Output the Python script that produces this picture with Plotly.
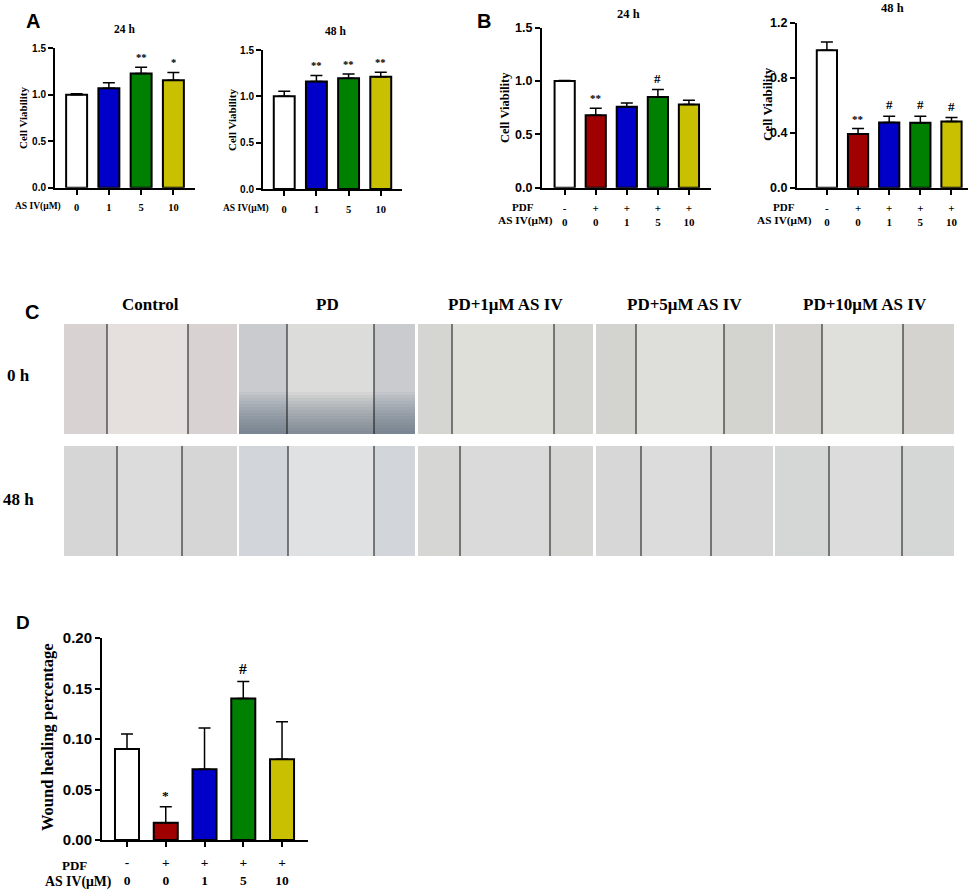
import plotly.graph_objects as go

W, H = 976, 891

# ---- data ----
a_dose = ["0", "1", "5", "10"]
a24_mean = [1.00, 1.07, 1.23, 1.155]
a24_err = [0.01, 0.06, 0.065, 0.085]
a24_sig = ["", "", "**", "*"]
a48_mean = [1.00, 1.16, 1.195, 1.21]
a48_err = [0.055, 0.065, 0.045, 0.05]
a48_sig = ["", "**", "**", "**"]

b_pdf = ["-", "+", "+", "+", "+"]
b_dose = ["0", "0", "1", "5", "10"]
b24_mean = [1.00, 0.68, 0.76, 0.85, 0.78]
b24_err = [0.005, 0.065, 0.035, 0.07, 0.04]
b24_sig = ["", "**", "", "#", ""]
b48_mean = [1.00, 0.39, 0.475, 0.473, 0.482]
b48_err = [0.06, 0.04, 0.045, 0.046, 0.028]
b48_sig = ["", "**", "#", "#", "#"]

d_mean = [0.090, 0.017, 0.070, 0.140, 0.080]
d_err = [0.015, 0.016, 0.041, 0.017, 0.037]
d_sig = ["", "*", "", "#", ""]

c_groups = ["Control", "PD", "PD+1μM AS IV", "PD+5μM AS IV", "PD+10μM AS IV"]
c_times = ["0 h", "48 h"]

colors5 = ["#FFFFFF", "#A00000", "#0000C8", "#008000", "#C8C000"]
colors4 = ["#FFFFFF", "#0000C8", "#008000", "#C8C000"]

SERIF = "Liberation Serif, Times New Roman, serif"
SANS = "Liberation Sans, Arial, sans-serif"


def fx(p):
    return p / W


def fy(p):
    return 1 - p / H


fig = go.Figure()

# panel placement in pixels
panels = [
    dict(n=1, x0=55, x1=195, yb=187.7, yt=48.3, xr=[-0.67, 3.67], yr=[0, 1.5], dt=0.5, fmt=".1f",
         mean=a24_mean, err=a24_err, sig=a24_sig, cols=colors4, ticks=a_dose, ys=10, xs=10.5, w=0.65),
    dict(n=2, x0=263, x1=402, yb=189, yt=50, xr=[-0.66, 3.66], yr=[0, 1.5], dt=0.5, fmt=".1f",
         mean=a48_mean, err=a48_err, sig=a48_sig, cols=colors4, ticks=a_dose, ys=10, xs=10.5, w=0.65),
    dict(n=3, x0=542, x1=711, yb=187.7, yt=27.7, xr=[-0.73, 4.71], yr=[0, 1.5], dt=0.5, fmt=".1f",
         mean=b24_mean, err=b24_err, sig=b24_sig, cols=colors5,
         ticks=[p + "<br>" + d for p, d in zip(b_pdf, b_dose)], ys=12.5, xs=11, w=0.65),
    dict(n=4, x0=797, x1=968, yb=187.7, yt=22.7, xr=[-0.96, 4.53], yr=[0, 1.2], dt=0.4, fmt=".1f",
         mean=b48_mean, err=b48_err, sig=b48_sig, cols=colors5,
         ticks=[p + "<br>" + d for p, d in zip(b_pdf, b_dose)], ys=12.5, xs=11, w=0.65),
    dict(n=5, x0=102, x1=308, yb=840, yt=638, xr=[-0.645, 4.67], yr=[0, 0.2], dt=0.05, fmt=".2f",
         mean=d_mean, err=d_err, sig=d_sig, cols=colors5,
         ticks=[p + "<br>" + d for p, d in zip(b_pdf, b_dose)], ys=15, xs=13.5, w=0.62),
]

annotations = []
for p in panels:
    n = p["n"]
    xa = "x" if n == 1 else f"x{n}"
    ya = "y" if n == 1 else f"y{n}"
    k = len(p["mean"])
    fig.add_trace(go.Bar(
        x=list(range(k)), y=p["mean"], xaxis=xa, yaxis=ya, width=p["w"],
        marker=dict(color=p["cols"], line=dict(color="black", width=2)),
        error_y=dict(type="data", array=p["err"], arrayminus=[0] * k, symmetric=False,
                     color="black", thickness=1.5, width=6),
        showlegend=False, hoverinfo="skip",
    ))
    axis_common = dict(showline=True, linecolor="black", linewidth=2, ticks="outside",
                       ticklen=5, tickwidth=2, tickcolor="black", showgrid=False, zeroline=False,
                       automargin=False)
    fig.update_layout(**{
        ("xaxis" if n == 1 else f"xaxis{n}"): dict(
            domain=[fx(p["x0"]), fx(p["x1"])], range=p["xr"], anchor=ya,
            tickvals=list(range(k)), ticktext=p["ticks"], ticklabelstandoff=4,
            tickfont=dict(family=SERIF, size=p["xs"], color="black", weight="bold"), **axis_common),
        ("yaxis" if n == 1 else f"yaxis{n}"): dict(
            domain=[fy(p["yb"]), fy(p["yt"])], range=p["yr"], anchor=xa, dtick=p["dt"],
            tickformat=p["fmt"],
            tickfont=dict(family=SANS, size=p["ys"], color="black", weight="bold"), **axis_common),
    })
    for i, s in enumerate(p["sig"]):
        if s:
            annotations.append(dict(
                x=i, y=p["mean"][i] + p["err"][i], xref=xa, yref=ya, text=s, showarrow=False,
                yanchor="bottom", yshift=2,
                font=dict(family=SERIF, size=p["xs"] + (2 if s == "#" else 0), color="black", weight="bold")))


# y-axis titles, subplot titles, row headers
def note(x, y, text, size, family=SERIF, angle=0):
    annotations.append(dict(x=fx(x), y=fy(y), xref="paper", yref="paper", text=text,
                            showarrow=False, textangle=angle, xanchor="center", yanchor="middle",
                            font=dict(family=family, size=size, color="black", weight="bold")))


note(23, 118, "Cell Viability", 11, angle=-90)
note(232, 120, "Cell Viability", 11, angle=-90)
note(505, 108, "Cell Viability", 12.5, angle=-90)
note(767, 104, "Cell Viability", 13, angle=-90)
note(47, 737, "Wound healing percentage", 16.5, angle=-90)

note(124, 29, "24 h", 11.5)
note(335, 31, "48 h", 11.5)
note(628, 14, "24 h", 12.5)
note(892, 8, "48 h", 12.5)

note(38, 207, "AS IV(μM)", 9.5)
note(246, 209, "AS IV(μM)", 9.5)
note(523, 207, "PDF", 11)
note(525, 221, "AS IV(μM)", 11.3)
note(784, 207, "PDF", 11)
note(784, 221, "AS IV(μM)", 11.3)
note(74, 865, "PDF", 13)
note(78, 882, "AS IV(μM)", 13.8)

note(33, 21, "A", 20, family=SANS)
note(484, 21, "B", 20, family=SANS)
note(32, 312, "C", 20, family=SANS)
note(23, 622, "D", 19, family=SANS)

# ---- panel C: scratch-assay photographs drawn as plain tiles ----
col_x = [(64, 237), (239, 415), (418, 593), (596, 773), (775, 954)]
row_y = [(324, 434), (446, 556)]
edges = [
    [(107, 188), (287, 374), (452, 554), (636, 724), (822, 903)],
    [(117, 182), (288, 374), (460, 550), (641, 711), (829, 902)],
]
tile_side = [
    ["#d9d2d3", "#c9cbcf", "#d5d6d1", "#d3d3cf", "#d4d3cf"],
    ["#d5d6d5", "#d2d5da", "#d6d7d5", "#d6d7d6", "#d5d6d6"],
]
tile_mid = [
    ["#e5dfdd", "#dcdcda", "#dfdfda", "#dedfda", "#dfdfdb"],
    ["#dcdcdc", "#e0e1e2", "#dadadb", "#dcdcdc", "#dcdcdc"],
]

shapes = []
for j, label in enumerate(c_groups):
    x0, x1 = col_x[j]
    note((x0 + x1) / 2, 304, label, 17)
for r, t in enumerate(c_times):
    y0, y1 = row_y[r]
    note(18, (y0 + y1) / 2 + (-4 if r == 0 else -2), t, 17)
    for j in range(len(c_groups)):
        x0, x1 = col_x[j]
        e0, e1 = edges[r][j]
        shapes.append(dict(type="rect", xref="paper", yref="paper", x0=fx(x0), x1=fx(x1),
                           y0=fy(y1), y1=fy(y0), fillcolor=tile_side[r][j], line=dict(width=0),
                           layer="below"))
        shapes.append(dict(type="rect", xref="paper", yref="paper", x0=fx(e0), x1=fx(e1),
                           y0=fy(y1), y1=fy(y0), fillcolor=tile_mid[r][j], line=dict(width=0),
                           layer="below"))
        if r == 0 and j == 1:
            # darker lower part of the PD photograph
            for b in range(14):
                shapes.append(dict(type="rect", xref="paper", yref="paper", x0=fx(x0), x1=fx(x1),
                                   y0=fy(y1), y1=fy(y1 - 3 * (b + 1)), fillcolor="#3c4560",
                                   opacity=0.05, line=dict(width=0), layer="below"))
        for e in (e0, e1):
            shapes.append(dict(type="line", xref="paper", yref="paper", x0=fx(e), x1=fx(e),
                               y0=fy(y1), y1=fy(y0), line=dict(color="#111111", width=1)))

fig.update_layout(
    width=W, height=H, margin=dict(l=0, r=0, t=0, b=0),
    paper_bgcolor="white", plot_bgcolor="white",
    annotations=annotations, shapes=shapes, bargap=0.3,
)

# drop the default 8px page margin so the figure sits flush with the window
fig.write_html("out.html", config={"displayModeBar": False},
               post_script="document.body.style.margin='0px';")
